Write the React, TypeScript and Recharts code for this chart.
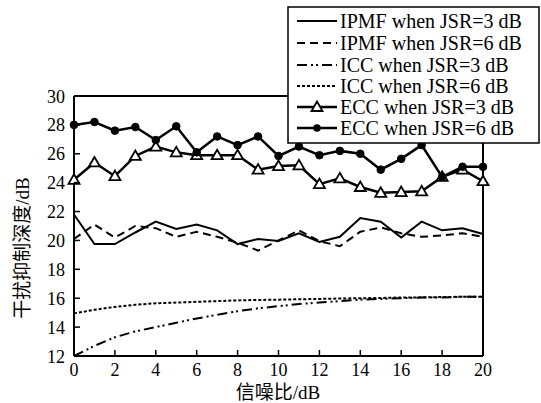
import React from 'react';
import { LineChart, Line, XAxis, YAxis, ReferenceLine } from 'recharts';

const snr = [0, 1, 2, 3, 4, 5, 6, 7, 8, 9, 10, 11, 12, 13, 14, 15, 16, 17, 18, 19, 20];
const ipmf3 = [21.8, 19.75, 19.75, 20.55, 21.3, 20.8, 21.1, 20.7, 19.75, 20.1, 19.97, 20.5, 19.9, 20.25, 21.55, 21.3, 20.2, 21.3, 20.7, 20.85, 20.45];
const ipmf6 = [20.1, 21.1, 20.2, 21.0, 20.85, 20.25, 20.6, 20.25, 19.85, 19.3, 20.0, 20.7, 19.95, 19.6, 20.6, 20.9, 20.5, 20.25, 20.35, 20.5, 20.25];
const icc3 = [12.0, 12.7, 13.3, 13.7, 14.0, 14.3, 14.6, 14.85, 15.1, 15.3, 15.45, 15.6, 15.7, 15.8, 15.9, 15.95, 16.0, 16.05, 16.05, 16.1, 16.1];
const icc6 = [14.95, 15.2, 15.4, 15.55, 15.65, 15.7, 15.75, 15.8, 15.85, 15.88, 15.9, 15.93, 15.95, 15.98, 16.0, 16.02, 16.05, 16.06, 16.08, 16.1, 16.1];
const ecc3 = [24.2, 25.4, 24.45, 25.85, 26.5, 26.1, 25.9, 25.9, 25.9, 24.9, 25.15, 25.2, 23.9, 24.3, 23.7, 23.3, 23.35, 23.4, 24.4, 24.9, 24.1];
const ecc6 = [28.0, 28.2, 27.6, 27.85, 26.95, 27.9, 26.1, 27.2, 26.6, 27.2, 25.85, 26.5, 25.9, 26.2, 26.0, 24.9, 25.65, 26.6, 24.4, 25.1, 25.1];

const xTicks = [0, 2, 4, 6, 8, 10, 12, 14, 16, 18, 20];
const yTicks = [12, 14, 16, 18, 20, 22, 24, 26, 28, 30];
const legendLabels = [
  'IPMF when JSR=3 dB',
  'IPMF when JSR=6 dB',
  'ICC when JSR=3 dB',
  'ICC when JSR=6 dB',
  'ECC when JSR=3 dB',
  'ECC when JSR=6 dB',
];
const xLabel = '信噪比';
const yLabel = '干扰抑制深度';
const unit = '/dB';

const data = snr.map((s, i) => ({
  snr: s,
  ipmf3: ipmf3[i],
  ipmf6: ipmf6[i],
  icc3: icc3[i],
  icc6: icc6[i],
  ecc3: ecc3[i],
  ecc6: ecc6[i],
}));

const SERIF = 'Liberation Serif';
const CJK = 'Noto Sans CJK SC';

const seriesStyles = [
  { key: 'ipmf3', dash: undefined, width: 2, marker: 'none' },
  { key: 'ipmf6', dash: '8 5', width: 2, marker: 'none' },
  { key: 'icc3', dash: '10 4 2 3 2 4', width: 2, marker: 'none' },
  { key: 'icc6', dash: '3 2', width: 2, marker: 'none' },
  { key: 'ecc3', dash: undefined, width: 2.5, marker: 'triangle' },
  { key: 'ecc6', dash: undefined, width: 2.5, marker: 'circle' },
];

const tri = (cx: number, cy: number) =>
  `${cx},${cy - 5.5} ${cx - 5.5},${cy + 4} ${cx + 5.5},${cy + 4}`;

const TriangleDot = (props: any) => {
  const { cx, cy, index } = props;
  if (cx == null || cy == null) return <g key={`t${index}`} />;
  return <polygon key={`t${index}`} points={tri(cx, cy)} fill="#fff" stroke="#000" strokeWidth={1.8} />;
};

const CircleDot = (props: any) => {
  const { cx, cy, index } = props;
  if (cx == null || cy == null) return <g key={`c${index}`} />;
  return <circle key={`c${index}`} cx={cx} cy={cy} r={3.8} fill="#000" stroke="#000" />;
};

const Y_MARGIN = 9;
const X_MARGIN = 6;

const YTick = (props: any) => {
  const { x, y, payload } = props;
  const ax = x + Y_MARGIN;
  return (
    <g>
      <line x1={ax} x2={ax + 6} y1={y} y2={y} stroke="#000" strokeWidth={1.5} />
      <text x={x} y={y + 6.5} textAnchor="end" fontFamily={SERIF} fontSize={18} fill="#000">
        {payload.value}
      </text>
    </g>
  );
};

const XTick = (props: any) => {
  const { x, y, payload } = props;
  const ay = y - X_MARGIN;
  return (
    <g>
      <line x1={x} x2={x} y1={ay} y2={ay - 6} stroke="#000" strokeWidth={1.5} />
      <text x={x} y={y + 14} textAnchor="middle" fontFamily={SERIF} fontSize={18} fill="#000">
        {payload.value}
      </text>
    </g>
  );
};

export default function App() {
  const lx = 288;
  const ly = 7;
  const rowY = [21, 43, 65, 86, 107, 128];
  return (
    <div style={{ position: 'absolute', left: 0, top: 0, width: 541, height: 403, background: '#fff' }}>
      <LineChart width={541} height={403} data={data} margin={{ top: 96, right: 58, left: 0, bottom: 0 }}>
        <XAxis
          dataKey="snr"
          type="number"
          domain={[0, 20]}
          ticks={xTicks}
          interval={0}
          height={47}
          tickSize={0}
          tickMargin={X_MARGIN}
          tickLine={false}
          axisLine={{ stroke: '#000', strokeWidth: 2 }}
          tick={(p: any) => <XTick {...p} />}
        />
        <YAxis
          type="number"
          domain={[12, 30]}
          ticks={yTicks}
          interval={0}
          width={74}
          tickSize={0}
          tickMargin={Y_MARGIN}
          tickLine={false}
          axisLine={{ stroke: '#000', strokeWidth: 2 }}
          tick={(p: any) => <YTick {...p} />}
        />
        <ReferenceLine y={30} stroke="#000" strokeWidth={2} />
        <ReferenceLine x={20} stroke="#000" strokeWidth={2} />
        {seriesStyles.map((s) => (
          <Line
            key={s.key}
            dataKey={s.key}
            type="linear"
            stroke="#000"
            strokeWidth={s.width}
            strokeDasharray={s.dash}
            isAnimationActive={false}
            dot={s.marker === 'triangle' ? TriangleDot : s.marker === 'circle' ? CircleDot : false}
            activeDot={false}
          />
        ))}
      </LineChart>
      <svg width={541} height={403} style={{ position: 'absolute', left: 0, top: 0, pointerEvents: 'none' }}>
        <rect x={lx} y={ly} width={251} height={136} fill="#fff" stroke="#000" strokeWidth={1.5} />
        {legendLabels.map((label, i) => {
          const s = seriesStyles[i];
          const cy = rowY[i];
          return (
            <g key={label}>
              <line x1={297} x2={337} y1={cy} y2={cy} stroke="#000" strokeWidth={s.width} strokeDasharray={s.dash} />
              {s.marker === 'triangle' && <polygon points={tri(317, cy)} fill="#fff" stroke="#000" strokeWidth={1.8} />}
              {s.marker === 'circle' && <circle cx={317} cy={cy} r={3.8} fill="#000" />}
              <text x={340} y={cy + 7} fontFamily={SERIF} fontSize={20} fill="#000">
                {label}
              </text>
            </g>
          );
        })}
        <text x={278} y={399} textAnchor="middle" fontSize={19} fill="#000">
          <tspan fontFamily={CJK}>{xLabel}</tspan>
          <tspan fontFamily={SERIF}>{unit}</tspan>
        </text>
        <g transform="rotate(-90, 22, 248)">
          <text x={22} y={255} textAnchor="middle" fontSize={19} fill="#000">
            <tspan fontFamily={CJK}>{yLabel}</tspan>
            <tspan fontFamily={SERIF}>{unit}</tspan>
          </text>
        </g>
      </svg>
    </div>
  );
}
